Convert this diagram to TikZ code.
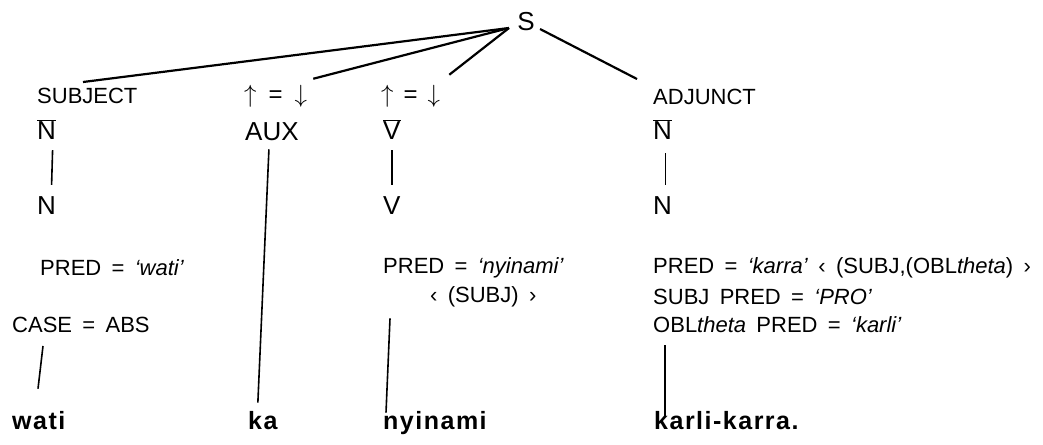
\documentclass[tikz,border=0pt]{standalone}
\usepackage{fontspec}
\setmainfont{Liberation Sans}
\newfontfamily\labfont[WordSpace=1.3, Ligatures=TeX]{Liberation Sans}
\newfontfamily\wordfont[LetterSpace=6]{Liberation Sans}
\usetikzlibrary{positioning}
\newcommand{\upeqdown}[1]{$\uparrow$\hspace{#1}=\hspace{#1}$\downarrow$}

\begin{document}
\begin{tikzpicture}[x=1pt, y=-1pt,
  lab/.style={font=\fontsize{22}{24}\selectfont\labfont, inner sep=0pt, anchor=west},
  cat/.style={font=\fontsize{26}{28}\selectfont, inner sep=0pt, anchor=west},
  word/.style={font=\fontsize{25}{27}\selectfont\wordfont\bfseries, inner sep=0pt, anchor=base west},
  branch/.style={line width=2.2pt},
  link/.style={line width=1.6pt}]
\useasboundingbox (0,0) rectangle (1043,444);

% root
\node[cat, anchor=center] (s) at (526,22) {S};
\coordinate (sl) at (509,28);
\coordinate (sr) at (540,29);

% daughters and their annotations
\node[lab] (subj) at (37,96) {SUBJECT};
\node[lab, font=\fontsize{24}{26}\selectfont] (eqaux) at (244,96) {\upeqdown{12pt}};
\node[lab, font=\fontsize{24}{26}\selectfont] (eqv) at (381,96) {\upeqdown{10pt}};
\node[lab] (adj) at (653,97) {ADJUNCT};

\node[cat] (nbar1) at (37,130) {$\overline{\mbox{N}}$};
\node[cat] (aux) at (245,132) {AUX};
\node[cat] (vbar) at (383,130) {$\overline{\mbox{V}}$};
\node[cat] (nbar2) at (653,130) {$\overline{\mbox{N}}$};

\node[cat] (n1) at (37,206) {N};
\node[cat] (v) at (383,206) {V};
\node[cat] (n2) at (653,206) {N};

% f-structure equations
\node[lab] (predwati) at (40,268) {PRED = \textit{‘wati’}};
\node[lab] (caseabs) at (12,325) {CASE = ABS};
\node[lab] (prednyi) at (383,268) {PRED = \textit{‘nyinami’}};
\node[lab] (subjarg) at (430,297) {‹ (SUBJ) ›};
\node[lab] (predkarra) at (653,268) {PRED = \textit{‘karra’} ‹ (SUBJ,(OBL\textit{theta}) ›};
\node[lab] (subjpro) at (653,297) {SUBJ PRED = \textit{‘PRO’}};
\node[lab] (oblkarli) at (653,325) {OBL\textit{theta} PRED = \textit{‘karli’}};

% words
\node[word] (wati) at (12,429) {wati};
\node[word] (ka) at (248,429) {ka};
\node[word] (nyinami) at (383,429) {nyinami};
\node[word] (karli) at (654,429) {karli-karra.};

% tree branches
\draw[branch] (sl) -- ([xshift=46pt,yshift=6pt]subj.north west);
\draw[branch] (sl) -- ([xshift=6pt,yshift=6pt]eqaux.north east);
\draw[branch] (sl) -- ([xshift=9pt,yshift=10pt]eqv.north east);
\draw[branch] (sr) -- ([xshift=-16pt,yshift=10pt]adj.north west);
\draw[link] ([xshift=6pt,yshift=-10pt]nbar1.south) -- ([xshift=5pt,yshift=12pt]n1.north);
\draw[link] ([xshift=-3pt,yshift=-8pt]aux.south) -- ([xshift=-5pt,yshift=8pt]ka.north);
\draw[link] ([yshift=-10pt]vbar.south) -- ([yshift=12pt]v.north);
\draw[link] ([xshift=3pt,yshift=-13pt]nbar2.south) -- ([xshift=3pt,yshift=12pt]n2.north);

% links to the words
\draw[link] ([xshift=31pt,yshift=-13pt]caseabs.south west) -- ([xshift=26pt,yshift=22pt]wati.north west);
\draw[link] ([xshift=7pt,yshift=-40pt]prednyi.south west) -- ([xshift=3pt,yshift=-2pt]nyinami.north west);
\draw[link] ([xshift=12pt,yshift=-12pt]oblkarli.south west) -- ([xshift=11pt,yshift=-6pt]karli.north west);
\end{tikzpicture}
\end{document}
